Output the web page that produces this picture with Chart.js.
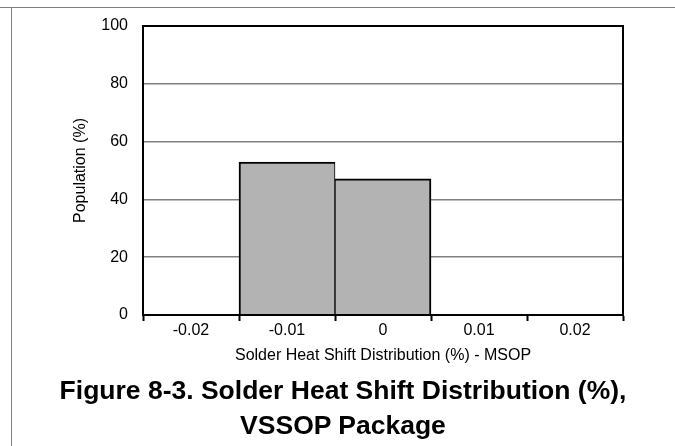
<!DOCTYPE html>
<html>
<head>
<meta charset="utf-8">
<script src="https://cdn.jsdelivr.net/npm/chart.js@4/dist/chart.umd.min.js"></script>
<style>
  html, body { margin: 0; padding: 0; background: #fff; }
  body { width: 675px; height: 446px; position: relative; overflow: hidden;
         font-family: "Liberation Sans", Arial, sans-serif; }
  #cellTop { position: absolute; left: 0; top: 7px; width: 675px; height: 0; border-top: 1px solid #7f7f7f; }
  #cellLeft { position: absolute; left: 11px; top: 7px; width: 0; height: 439px; border-left: 1px solid #7f7f7f; }
  #plot { position: absolute; left: 0; top: 0; width: 675px; height: 446px; }
  #caption { position: absolute; left: 11px; width: 664px; top: 373px; text-align: center;
             font-weight: bold; font-size: 26.5px; line-height: 35px; color: #000; }
</style>
</head>
<body>
<div id="cellTop"></div>
<div id="cellLeft"></div>
<div id="plot"><canvas id="chart"></canvas></div>
<div id="caption">Figure 8-3. Solder Heat Shift Distribution (%),<br>VSSOP Package</div>
<script>
// Histogram bins (shift, %) and the share of parts falling in each bin
const categories = ['-0.02', '-0.01', '0', '0.01', '0.02'];
const population = [0, 52.9, 47.1, 0, 0];
const yTickValues = [0, 20, 40, 60, 80, 100];

const xAxisTitle = 'Solder Heat Shift Distribution (%) - MSOP';
const yAxisTitle = 'Population (%)';

const FONT = "'Liberation Sans', Arial, sans-serif";

// Neighbouring bars share one edge, so halve the stroke on shared sides
function barBorder(ctx) {
  const i = ctx.dataIndex;
  const prev = i > 0 && population[i - 1] > 0;
  const next = i < population.length - 1 && population[i + 1] > 0;
  return { top: 2, bottom: 0, left: prev ? 1 : 2, right: next ? 1 : 2 };
}

new Chart(document.getElementById('chart'), {
  type: 'bar',
  data: {
    labels: categories,
    datasets: [{
      data: population,
      backgroundColor: '#b3b3b3',
      borderColor: '#000',
      borderWidth: barBorder,
      borderSkipped: false,
      barPercentage: 1,
      categoryPercentage: 1
    }]
  },
  options: {
    responsive: true,
    maintainAspectRatio: false,
    animation: false,
    devicePixelRatio: 1,
    layout: { padding: { left: 0, top: 26, right: 52, bottom: 81 } },
    plugins: { legend: { display: false }, tooltip: { enabled: false } },
    scales: {
      x: {
        type: 'category',
        offset: true,
        grid: { offset: true, drawOnChartArea: false, drawTicks: true, tickLength: 6,
                tickColor: '#000', tickWidth: 2 },
        border: { color: '#000', width: 2, z: 1 },
        ticks: { color: '#000', font: { family: FONT, size: 16 }, padding: 0,
                 maxRotation: 0, autoSkip: false },
        title: { display: true, text: xAxisTitle, color: '#000',
                 font: { family: FONT, size: 16 }, padding: { top: 0, bottom: 0 } },
        afterFit(scale) { scale.height = 50; }
      },
      y: {
        min: 0,
        max: 100,
        afterBuildTicks(scale) { scale.ticks = yTickValues.map(v => ({ value: v })); },
        grid: {
          drawTicks: false,
          color: c => (c.tick && (c.tick.value === 100 || c.tick.value === 0)) ? '#000' : '#808080',
          lineWidth: c => (c.tick && (c.tick.value === 100 || c.tick.value === 0)) ? 2 : 1.5
        },
        border: { color: '#000', width: 2, z: 1 },
        ticks: { color: '#000', font: { family: FONT, size: 16 }, padding: 15 },
        title: { display: true, text: yAxisTitle, color: '#000',
                 font: { family: FONT, size: 16 }, padding: { top: 71, bottom: 0 } },
        afterFit(scale) { scale.width = 143; }
      },
      frameRight: {
        position: 'right',
        min: 0,
        max: 100,
        grid: { drawOnChartArea: false, drawTicks: false },
        border: { color: '#000', width: 2, z: 1 },
        ticks: { display: false },
        afterFit(scale) { scale.width = 0; }
      }
    }
  }
});
</script>
</body>
</html>
